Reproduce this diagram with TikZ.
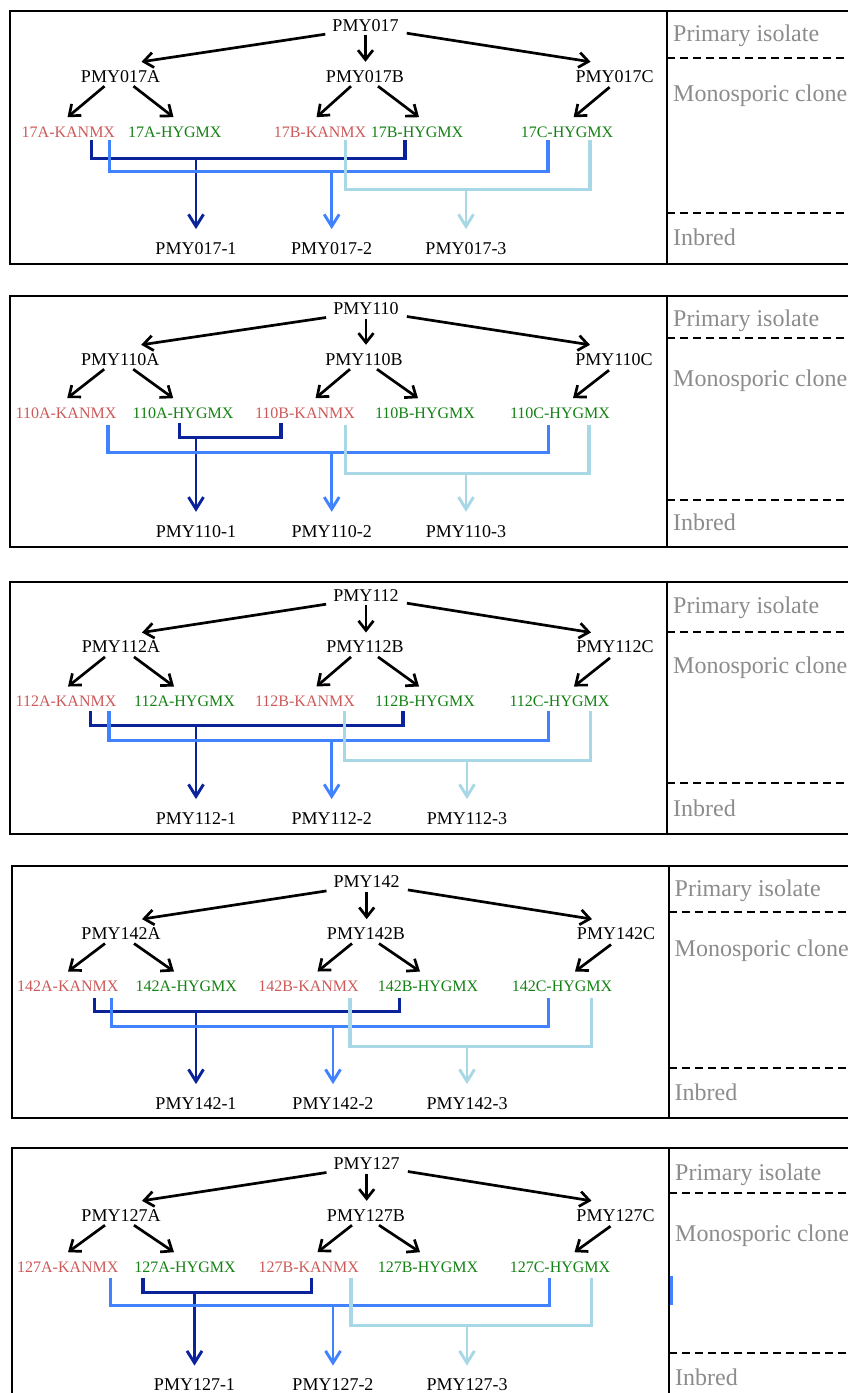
\documentclass[tikz,border=0pt]{standalone}
\usepackage{fontspec}
\setmainfont{Liberation Serif}
\usetikzlibrary{arrows.meta,calc}
\definecolor{kanred}{RGB}{205,90,90}
\definecolor{hyggreen}{RGB}{20,130,20}
\definecolor{navyblue}{RGB}{10,35,155}
\definecolor{midblue}{RGB}{65,130,255}
\definecolor{paleblue}{RGB}{168,216,230}
\definecolor{labgray}{RGB}{140,140,140}
\tikzset{
  blk/.style={inner sep=0pt, font=\fontsize{18}{20}\selectfont, text height=12pt, text depth=0pt},
  kan/.style={inner sep=0pt, font=\fontsize{16}{18}\selectfont, text height=10.6pt, text depth=0pt, text=kanred},
  hyg/.style={inner sep=0pt, font=\fontsize{16}{18}\selectfont, text height=10.6pt, text depth=0pt, text=hyggreen},
  gry/.style={anchor=west, inner sep=0pt, font=\fontsize{24}{26}\selectfont, text height=16pt, text depth=0pt, text=labgray},
  frame/.style={line width=2pt},
  sepline/.style={line width=2pt, dash pattern=on 8pt off 5pt},
  blkarr/.style={line width=2.7pt, -{Straight Barb[length=9.5pt,width=15pt]}},
  cross/.style={line width=3.1pt},
  drop/.style={line width=2.9pt, -{Straight Barb[length=12pt,width=15pt]}, shorten >=13pt},
}
\newcommand\drawpanel[1]{%
  \draw[frame] (849,\qTop) -- (\qLeft,\qTop) -- (\qLeft,\qBot) -- (849,\qBot);
  \draw[frame] (\qDiv,\qTop) -- (\qDiv,\qBot);
  \draw[sepline] (\qDiv,\qDa) -- (849,\qDa);
  \draw[sepline] (\qDiv,\qDb) -- (849,\qDb);
  \node[gry] (#1g1) at (\qDiv+6,\qGa) {Primary isolate};
  \node[gry] (#1g2) at (\qDiv+6,\qGb) {Monosporic clone};
  \node[gry] (#1g3) at (\qDiv+6,\qGc) {Inbred};
  \node[blk] (#1T) at (\xT,\qT) {PMY\qN};
  \node[blk] (#1A) at (\xA,\qR) {PMY\qN A};
  \node[blk] (#1B) at (\xB,\qR) {PMY\qN B};
  \node[blk] (#1C) at (\xC,\qR) {PMY\qN C};
  \node[kan] (#1Ka) at (\xKa,\qL) {\qS A-KANMX};
  \node[hyg] (#1Ha) at (\xHa,\qL) {\qS A-HYGMX};
  \node[kan] (#1Kb) at (\xKb,\qL) {\qS B-KANMX};
  \node[hyg] (#1Hb) at (\xHb,\qL) {\qS B-HYGMX};
  \node[hyg] (#1Hc) at (\xHc,\qL) {\qS C-HYGMX};
  \node[blk] (#1P1) at (\xPa,\qBt) {PMY\qN-1};
  \node[blk] (#1P2) at (\xPb,\qBt) {PMY\qN-2};
  \node[blk] (#1P3) at (\xPc,\qBt) {PMY\qN-3};
  \draw[blkarr] let \p1=(#1T.south west), \p2=(#1A.north) in (\x1-7pt,\y1-3pt) -- (\x2+21pt,\y2+8pt);
  \draw[blkarr, shorten <=4pt, shorten >=8pt] (#1T.south) -- (#1T.south |- #1B.north);
  \draw[blkarr] let \p1=(#1T.south east), \p2=(#1C.north) in (\x1+8pt,\y1-2pt) -- (\x2-24pt,\y2+8pt);
  \draw[blkarr] let \p1=(#1A.south), \p2=(#1Ka.north) in (\x1-16pt,\y1-4pt) -- (\x1-53pt,\y2+9pt);
  \draw[blkarr] let \p1=(#1A.south), \p2=(#1Ha.north) in (\x1+13pt,\y1-4pt) -- (\x1+53pt,\y2+9pt);
  \draw[blkarr] let \p1=(#1B.south), \p2=(#1Kb.north) in (\x1-14pt,\y1-4pt) -- (\x1-48.5pt,\y2+9pt);
  \draw[blkarr] let \p1=(#1B.south), \p2=(#1Hb.north) in (\x1+13pt,\y1-4pt) -- (\x1+54pt,\y2+9pt);
  \draw[blkarr] let \p1=(#1C.south), \p2=(#1Hc.north) in (\x1-5pt,\y1-5pt) -- (\x1-41pt,\y2+9pt);
}
% style, from, dx1, to, dx2, gap, depth, bottom node
\newcommand\inbred[8]{%
  \draw[cross,#1] ($(#2.south)+(#3,#6)$) -- ++(0,#7) coordinate (#2#4h) -| ($(#4.south)+(#5,#6)$);
  \draw[drop,#1] (#2#4h -| #8.north) -- (#8.north);
}
\begin{document}
\begin{tikzpicture}[x=1pt,y=-1pt]
\useasboundingbox (0,0) rectangle (847,1393);
\fill[white] (0,0) rectangle (847,1393);
% ---------- panel 1
\def\qTop{10.7}\def\qBot{264}\def\qLeft{10}\def\qDiv{667}
\def\qT{25}\def\qR{76}\def\qL{131.7}\def\qBt{248.3}
\def\qDa{58.3}\def\qDb{213.3}\def\qGa{33.3}\def\qGb{93.3}\def\qGc{237.3}
\def\xT{365.5}\def\xA{120.5}\def\xB{365}\def\xC{614.6}
\def\xKa{68.4}\def\xHa{174.8}\def\xKb{320}\def\xHb{417}\def\xHc{567}
\def\xPa{196}\def\xPb{331.7}\def\xPc{466}
\def\qN{017}\def\qS{17}
\drawpanel{a}
\inbred{navyblue}{aKa}{23.4}{aHb}{-12}{3}{18.3}{aP1}
\inbred{midblue}{aKa}{41.3}{aHc}{-19}{3}{31}{aP2}
\inbred{paleblue}{aKb}{25.8}{aHc}{23}{3}{49.3}{aP3}
% ---------- panel 2
\def\qTop{295.7}\def\qBot{546.7}\def\qLeft{10}\def\qDiv{667}
\def\qT{308.3}\def\qR{359}\def\qL{412.7}\def\qBt{531}
\def\qDa{338.3}\def\qDb{500}\def\qGa{318.3}\def\qGb{378.3}\def\qGc{522.3}
\def\xT{366}\def\xA{120.2}\def\xB{364}\def\xC{614}
\def\xKa{66}\def\xHa{183}\def\xKb{305}\def\xHb{425}\def\xHc{560}
\def\xPa{196}\def\xPb{331.7}\def\xPc{466}
\def\qN{110}\def\qS{110}
\drawpanel{b}
\inbred{navyblue}{bHa}{-3.6}{bKb}{-24}{5}{14.7}{bP1}
\inbred{midblue}{bKa}{42}{bHc}{-11.6}{7}{27.3}{bP2}
\inbred{paleblue}{bKb}{40.8}{bHc}{29}{7}{48.3}{bP3}
% ---------- panel 3
\def\qTop{581.7}\def\qBot{833.5}\def\qLeft{10}\def\qDiv{667}
\def\qT{595}\def\qR{646.7}\def\qL{701}\def\qBt{818.3}
\def\qDa{631.7}\def\qDb{782.7}\def\qGa{605}\def\qGb{665}\def\qGc{808.3}
\def\xT{366}\def\xA{121}\def\xB{365}\def\xC{615}
\def\xKa{66}\def\xHa{184.5}\def\xKb{305}\def\xHb{425}\def\xHc{559.5}
\def\xPa{196}\def\xPb{331.7}\def\xPc{467}
\def\qN{112}\def\qS{112}
\drawpanel{c}
\inbred{navyblue}{cKa}{24.8}{cHb}{-22}{4.4}{14.3}{cP1}
\inbred{midblue}{cKa}{43}{cHc}{-11.1}{4.4}{29.3}{cP2}
\inbred{paleblue}{cKb}{39.7}{cHc}{31}{4.4}{49.3}{cP3}
% ---------- panel 4
\def\qTop{865.7}\def\qBot{1118.3}\def\qLeft{12}\def\qDiv{668.5}
\def\qT{881.7}\def\qR{933.3}\def\qL{986}\def\qBt{1103.3}
\def\qDa{912.3}\def\qDb{1067.7}\def\qGa{888.3}\def\qGb{948.3}\def\qGc{1092.3}
\def\xT{366.7}\def\xA{121}\def\xB{366}\def\xC{616}
\def\xKa{67.8}\def\xHa{186.3}\def\xKb{308.5}\def\xHb{428}\def\xHc{562}
\def\xPa{196}\def\xPb{333}\def\xPc{467}
\def\qN{142}\def\qS{142}
\drawpanel{d}
\inbred{navyblue}{dKa}{26.7}{dHb}{-28.2}{6.4}{14}{dP1}
\inbred{midblue}{dKa}{44}{dHc}{-13.6}{6.4}{29}{dP2}
\inbred{paleblue}{dKb}{41.5}{dHc}{29.6}{6.4}{49}{dP3}
% ---------- panel 5
\def\qTop{1148.3}\def\qBot{1420}\def\qLeft{12}\def\qDiv{669}
\def\qT{1163.3}\def\qR{1215}\def\qL{1266.7}\def\qBt{1384.8}
\def\qDa{1193.3}\def\qDb{1353.3}\def\qGa{1172.3}\def\qGb{1233.3}\def\qGc{1377.3}
\def\xT{366.7}\def\xA{121}\def\xB{366}\def\xC{615.5}
\def\xKa{67.8}\def\xHa{185}\def\xKb{308.8}\def\xHb{428}\def\xHc{560}
\def\xPa{194.5}\def\xPb{333}\def\xPc{467}
\def\qN{127}\def\qS{127}
\drawpanel{e}
\inbred{navyblue}{eHa}{-42}{eKb}{2.9}{5.3}{15.4}{eP1}
\inbred{midblue}{eKa}{43}{eHc}{-10.6}{5.3}{27.7}{eP2}
\inbred{paleblue}{eKb}{42.2}{eHc}{31.6}{5.3}{47.7}{eP3}
\draw[midblue, line width=2.5pt] (671.5,1276) -- (671.5,1305);
\end{tikzpicture}
\end{document}
